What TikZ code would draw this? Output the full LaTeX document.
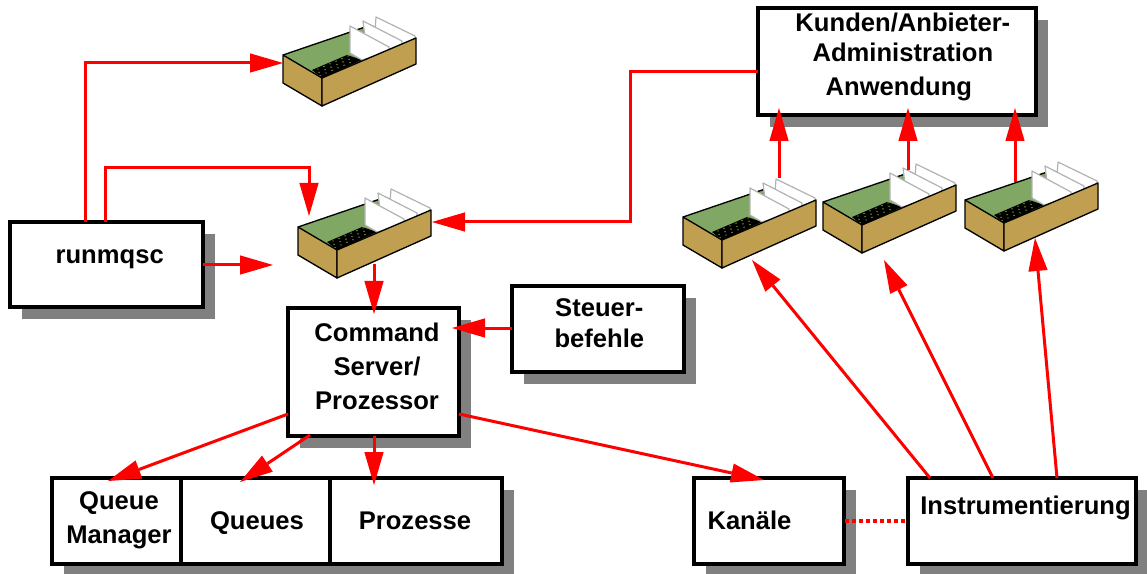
\documentclass[tikz,border=0pt]{standalone}
\usepackage{fontspec}
\setmainfont{Liberation Sans}
\usetikzlibrary{arrows.meta}
\definecolor{trayside}{HTML}{C0A050}
\definecolor{traygreen}{HTML}{80A864}
\definecolor{shade}{HTML}{808080}
\tikzset{
  x=0.75pt,y=-0.75pt,
  box/.style={draw=black,line width=3pt,fill=white,anchor=north west,inner sep=0pt,outer sep=0pt,
    font=\bfseries\fontsize{19.2}{25.5}\selectfont,align=center},
  shadowfill/.style={fill=shade,draw=none},
  side/.style={fill=trayside,draw=black,line width=1pt,line join=round},
  card/.style={fill=white,draw=black!30,line width=0.9pt,line join=round},
  flow/.style={draw=red,line width=2.25pt,-{Triangle[length=24.75pt,width=14.5pt,line width=0pt]}},
  link/.style={draw=red,line width=2.5pt,dash pattern=on 3pt off 2.25pt},
}
\newcommand\off[3]{\raisebox{#2}[0pt][0pt]{\makebox[0pt]{\hspace*{#1}\begin{tabular}[c]{@{}c@{}}#3\end{tabular}}}}
% name, x1, y1, x2, y2, text
\newcommand\bx[6]{%
  \pgfmathsetlengthmacro\bw{(#4-#2)*0.75pt}%
  \pgfmathsetlengthmacro\bh{(#5-#3)*0.75pt}%
  \node[box,minimum width=\bw,minimum height=\bh] (#1) at (#2,#3) {#6};}
\newcommand\sh[4]{\fill[shadowfill] (#1+12,#2+12) rectangle (#3+12,#4+12);}
\newcommand\tray[3]{%
  \begin{scope}[shift={(#2,#3)}]
    \coordinate (#1) at (0,0);
    \fill[traygreen] (0,0) -- (88,-30) -- (133,-17) -- (39,23) -- cycle;
    \draw[black,line width=1pt] (0,0) -- (88,-30);
    \fill[black] (29,15) -- (64,0) -- (79,5) -- (39,23) -- cycle;
    \foreach \i in {0,...,5}{\foreach \j in {0,...,2}{
      \fill[traygreen!60!yellow] ({35+\i*6+\j*1},{14-\i*2.6+\j*3.3}) circle (0.7);}}
    \filldraw[card] (93,-38) -- (132,-19) -- (132,-14) -- (90,4) -- cycle;
    \filldraw[card] (80,-34) -- (119,-14) -- (119,-8) -- (85,6) -- cycle;
    \filldraw[card] (67,-29) -- (106,-8) -- (106,-3) -- (79,5) -- (67,-2) -- cycle;
    \draw[side] (0,0) -- (39,23) -- (39,51) -- (0,28) -- cycle;
    \draw[side] (39,23) -- (133,-17) -- (133,9) -- (39,51) -- cycle;
  \end{scope}}
\begin{document}
\begin{tikzpicture}
\useasboundingbox (0,0) rectangle (1147,574);
% shadows
\sh{758}{8}{1036}{115}
\sh{10}{222}{203}{307}
\sh{288}{308}{459}{436}
\sh{512}{286}{684}{372}
\sh{52}{478}{502}{564}
\sh{694}{478}{844}{564}
\sh{908}{478}{1136}{564}
% boxes
\bx{app}{758}{8}{1036}{115}{\off{8.8pt}{-1.9pt}{Kunden/Anbieter-\\[-3pt]Administration\\\hspace*{-6pt}Anwendung}}
\bx{runm}{10}{222}{203}{307}{\off{4.8pt}{0.4pt}{runmqsc}}
\bx{cs}{288}{308}{459}{436}{\off{5.2pt}{-2.9pt}{Command\\Server/\\Prozessor}}
\bx{st}{512}{286}{684}{372}{\off{2pt}{-2.2pt}{Steuer-\\[-2.5pt]befehle}}
\bx{qm}{52}{478}{181}{564}{\off{3.75pt}{-4.5pt}{Queue\\Manager}}
\bx{qs}{181}{478}{330}{564}{\off{2.25pt}{-6.75pt}{Queues}}
\bx{pr}{330}{478}{502}{564}{\off{-1.5pt}{-6.75pt}{Prozesse}}
\bx{ka}{694}{478}{844}{564}{\off{-29.25pt}{-6.75pt}{Kanäle}}
\bx{in}{908}{478}{1136}{564}{\off{5.25pt}{4.5pt}{Instrumentierung}}
% trays
\tray{t1}{283}{55}
\tray{t2}{298}{227}
\tray{t3}{683}{217}
\tray{t4}{823}{202}
\tray{t5}{965}{200}
% connector ends
\coordinate (a1) at (85,222);   \coordinate (a2) at (85,63);   \coordinate (a3) at (283,63);
\coordinate (b1) at (105,222);  \coordinate (b2) at (105,168); \coordinate (b3) at (309,168); \coordinate (b4) at (309,216);
\coordinate (c1) at (203,265);  \coordinate (c2) at (273,265);
\coordinate (d1) at (758,72);   \coordinate (d2) at (630,72);  \coordinate (d3) at (630,222); \coordinate (d4) at (432,222);
\coordinate (e1) at (374,264);  \coordinate (e2) at (374,314);
\coordinate (f1) at (512,328);  \coordinate (f2) at (452,328);
\coordinate (g1) at (288,414);  \coordinate (g2) at (108,481);
\coordinate (h1) at (310,435);  \coordinate (h2) at (240,482);
\coordinate (i1) at (374,436);  \coordinate (i2) at (374,485);
\coordinate (j1) at (459,414);  \coordinate (j2) at (764,480);
\coordinate (k1) at (779,178);  \coordinate (k2) at (779,108);
\coordinate (l1) at (908,170);  \coordinate (l2) at (908,108);
\coordinate (m1) at (1015,182); \coordinate (m2) at (1015,108);
\coordinate (n1) at (930,478);  \coordinate (n2) at (752,260);
\coordinate (o1) at (993,478);  \coordinate (o2) at (884,260);
\coordinate (p1) at (1057,478); \coordinate (p2) at (1035,238);
\coordinate (q1) at (845,521);  \coordinate (q2) at (907,521);
% connectors
\draw[flow] (a1) -- (a2) -- (a3);
\draw[flow] (b1) -- (b2) -- (b3) -- (b4);
\draw[flow] (c1) -- (c2);
\draw[flow] (d1) -- (d2) -- (d3) -- (d4);
\draw[flow] (e1) -- (e2);
\draw[flow] (f1) -- (f2);
\draw[flow] (g1) -- (g2);
\draw[flow] (h1) -- (h2);
\draw[flow] (i1) -- (i2);
\draw[flow] (j1) -- (j2);
\draw[flow] (k1) -- (k2);
\draw[flow] (l1) -- (l2);
\draw[flow] (m1) -- (m2);
\draw[flow] (n1) -- (n2);
\draw[flow] (o1) -- (o2);
\draw[flow] (p1) -- (p2);
\draw[link] (q1) -- (q2);
\end{tikzpicture}
\end{document}
